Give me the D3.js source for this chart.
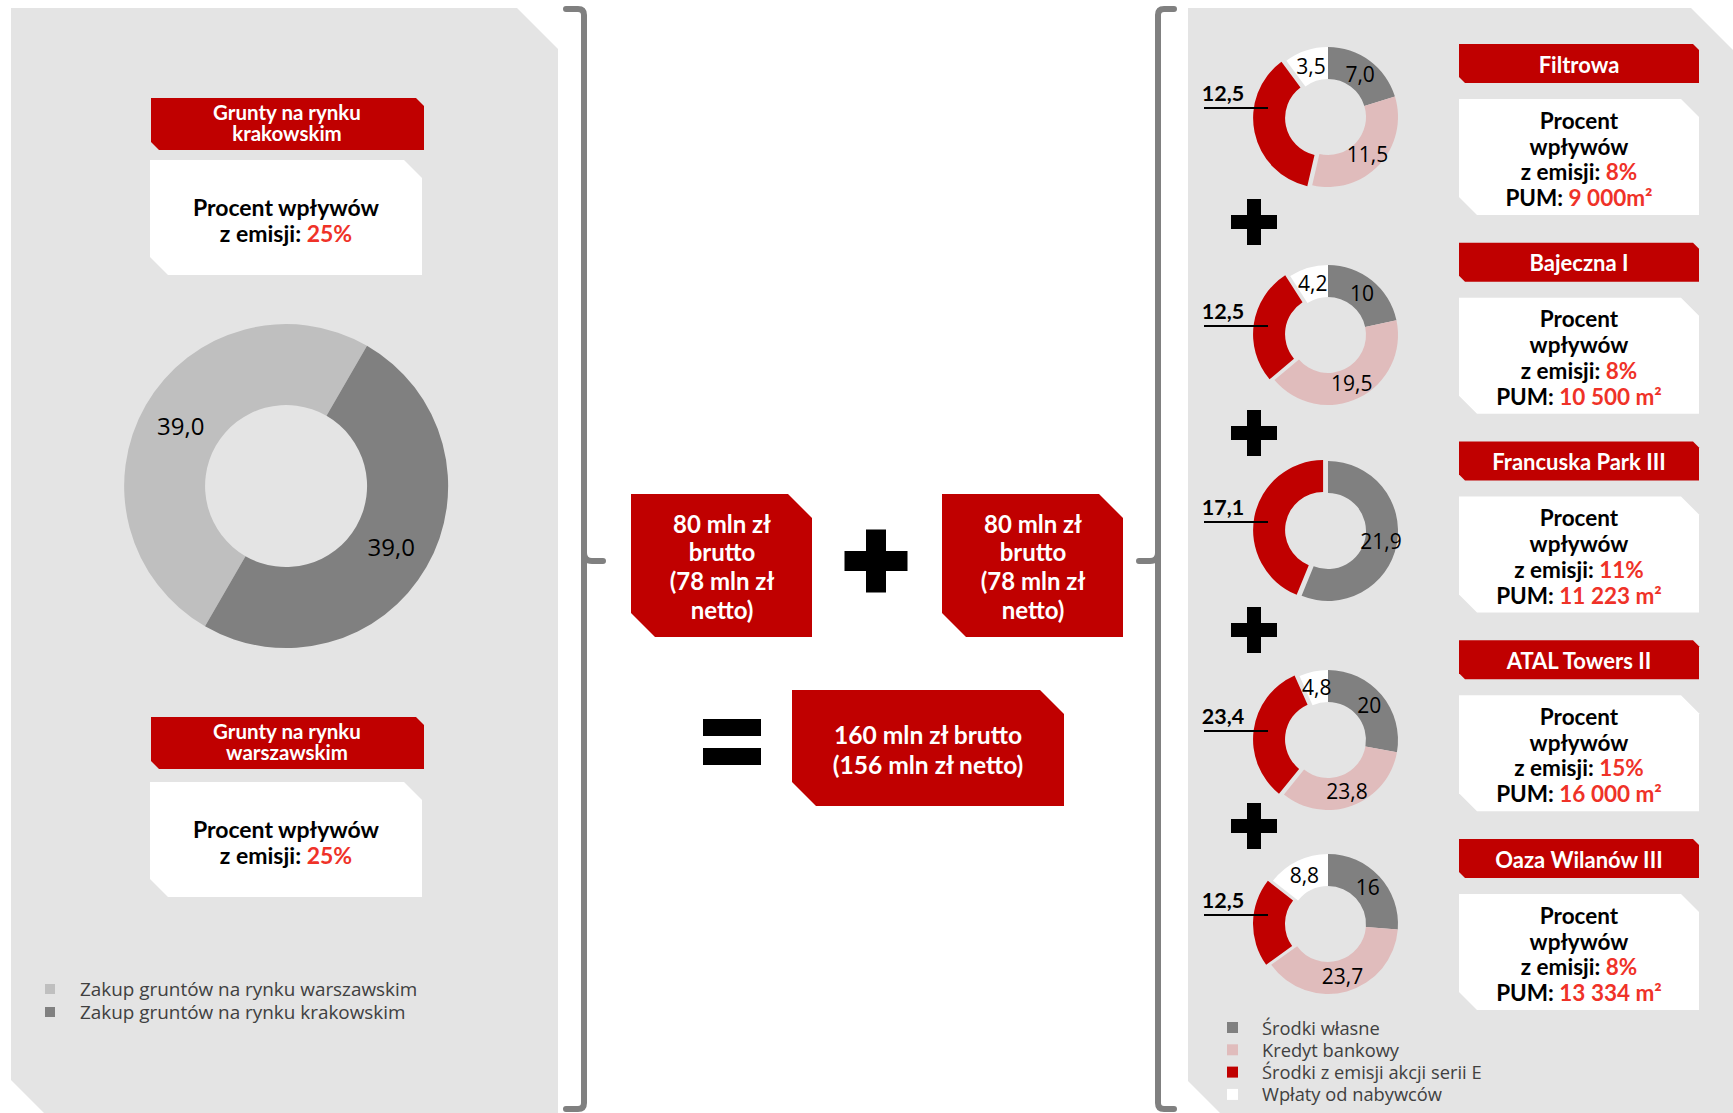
<!DOCTYPE html>
<html>
<head>
<meta charset="utf-8">
<script src="https://cdn.jsdelivr.net/npm/d3@7"></script>
<style>
  body { margin: 0; background: #fff; }
  svg { display: block; }
</style>
</head>
<body>
<svg id="chart"></svg>
<script>
const W = 1733;
const H = 1113;
const RED = '#c00000';
const HIGHLIGHT = '#ef3228';
const PANEL = '#e4e4e4';
const BRACKET = '#808080';
const BOLD = 'Lato, "Open Sans", sans-serif';
const REGULAR = '"Open Sans", "Noto Sans", sans-serif';

// land purchase (left panel)
const landSeries = ['Zakup gruntów na rynku warszawskim', 'Zakup gruntów na rynku krakowskim'];
const landValues = [39.0, 39.0];
const landColors = ['#bfbfbf', '#808080'];
const landHeaders = [['Grunty na rynku', 'krakowskim'], ['Grunty na rynku', 'warszawskim']];
const landShare = ['25%', '25%'];

// issue amounts (middle)
const trancheLines = [
  ['80 mln zł', 'brutto', '(78 mln zł', 'netto)'],
  ['80 mln zł', 'brutto', '(78 mln zł', 'netto)'],
];
const totalLines = ['160 mln zł brutto', '(156 mln zł netto)'];

// projects (right panel)
const projects = ['Filtrowa', 'Bajeczna I', 'Francuska Park III', 'ATAL Towers II', 'Oaza Wilanów III'];
const fundingSeries = ['Środki własne', 'Kredyt bankowy', 'Środki z emisji akcji serii E', 'Wpłaty od nabywców'];
const fundingColors = ['#808080', '#e0bcbc', RED, '#ffffff'];
const ownFunds = [7.0, 10, 21.9, 20, 16];
const bankLoan = [11.5, 19.5, 0, 23.8, 23.7];
const issueFunds = [12.5, 12.5, 17.1, 23.4, 12.5];
const buyerPayments = [3.5, 4.2, 0, 4.8, 8.8];
const issueShare = ['8%', '8%', '11%', '15%', '8%'];
const pumArea = ['9 000m²', '10 500 m²', '11 223 m²', '16 000 m²', '13 334 m²'];

// layout
const DONUT_Y = [117, 335, 531, 740, 924];
const PLUS_Y = [222, 433, 630, 826];

const svg = d3.select('#chart').attr('width', W).attr('height', H);

const comma = v => v.toFixed(1).replace('.', ',');
const smallLabel = v => (Number.isInteger(v) && v >= 10 ? String(v) : comma(v));

// box with top-right and bottom-left corners cut off
function tag(x, y, w, h, c) {
  return `M${x},${y}H${x + w - c}L${x + w},${y + c}V${y + h}H${x + c}L${x},${y + h - c}Z`;
}

function plus(g, cx, cy, size, t) {
  g.append('rect').attr('x', cx - size / 2).attr('y', cy - t / 2).attr('width', size).attr('height', t).attr('fill', '#000');
  g.append('rect').attr('x', cx - t / 2).attr('y', cy - size / 2).attr('width', t).attr('height', size).attr('fill', '#000');
}

function lines(g, x, ys, texts, size, fill) {
  texts.forEach((t, i) => {
    g.append('text')
      .attr('x', x).attr('y', ys[i])
      .attr('text-anchor', 'middle')
      .attr('dominant-baseline', 'central')
      .attr('font-family', BOLD).attr('font-weight', 700)
      .attr('font-size', size).attr('fill', fill)
      .text(t);
  });
}

function twoTone(g, x, y, a, b, size) {
  const t = g.append('text')
    .attr('x', x).attr('y', y)
    .attr('text-anchor', 'middle').attr('dominant-baseline', 'central')
    .attr('font-family', BOLD).attr('font-weight', 700).attr('font-size', size);
  t.append('tspan').attr('fill', '#000').text(a);
  t.append('tspan').attr('fill', HIGHLIGHT).text(b);
}

// panels
svg.append('path').attr('d', 'M11,8H517L558,49V1113H44L11,1080Z').attr('fill', PANEL);
svg.append('path').attr('d', 'M1188,8H1691L1733,50V1113H1220L1188,1081Z').attr('fill', PANEL);

// brackets
const br = svg.append('g').attr('fill', 'none').attr('stroke', BRACKET).attr('stroke-width', 6).attr('stroke-linecap', 'round');
br.append('path').attr('d', 'M566,9H578Q584,9 584,15V1103Q584,1109 578,1109H566');
br.append('path').attr('d', 'M584,553Q584,561 592,561H603');
br.append('path').attr('d', 'M1174,9H1164Q1158,9 1158,15V1103Q1158,1109 1164,1109H1174');
br.append('path').attr('d', 'M1158,553Q1158,561 1150,561H1139');

// ---- left panel ----
const left = svg.append('g');
const landHeaderY = [98, 717];
const landBoxY = [160, 782];
landHeaders.forEach((hd, i) => {
  left.append('path').attr('d', tag(151, landHeaderY[i], 273, 52, 8)).attr('fill', RED);
  lines(left, 287, [landHeaderY[i] + 13.5, landHeaderY[i] + 34.5], hd, 20.5, '#fff');
  left.append('path').attr('d', tag(150, landBoxY[i], 272, 115, 18)).attr('fill', '#fff');
  lines(left, 286, [landBoxY[i] + 47], ['Procent wpływów'], 23, '#000');
  twoTone(left, 286, landBoxY[i] + 73, 'z emisji: ', landShare[i], 23);
});

const landPie = d3.pie().sort(null)
  .startAngle(7 * Math.PI / 6)
  .endAngle(7 * Math.PI / 6 + 2 * Math.PI);
const landArc = d3.arc().innerRadius(81).outerRadius(162);
const landG = left.append('g').attr('transform', 'translate(286,486)');
const landArcs = landPie(landValues);
landG.selectAll('path').data(landArcs).join('path')
  .attr('d', landArc)
  .attr('fill', (d, i) => landColors[i]);
landG.selectAll('text').data(landArcs).join('text')
  .attr('transform', d => `translate(${landArc.centroid(d)})`)
  .attr('text-anchor', 'middle').attr('dominant-baseline', 'central')
  .attr('font-family', REGULAR).attr('font-size', 24).attr('fill', '#000')
  .text(d => comma(d.data));

const landLegend = left.selectAll('g.leg').data(landSeries).join('g')
  .attr('class', 'leg')
  .attr('transform', (d, i) => `translate(45,${989 + i * 23})`);
landLegend.append('rect').attr('x', 0).attr('y', -5).attr('width', 10).attr('height', 10)
  .attr('fill', (d, i) => landColors[i]);
landLegend.append('text').attr('x', 35).attr('dominant-baseline', 'central')
  .attr('font-family', REGULAR).attr('font-size', 18.9).attr('fill', '#404040')
  .text(d => d);

// ---- middle ----
const mid = svg.append('g');
const trancheX = [631, 942];
trancheLines.forEach((tl, i) => {
  mid.append('path').attr('d', tag(trancheX[i], 494, 181, 143, 24)).attr('fill', RED);
  lines(mid, trancheX[i] + 91, [523, 551, 580, 609], tl, 24, '#fff');
});
plus(mid, 876, 561, 63, 20);
mid.append('rect').attr('x', 703).attr('y', 719).attr('width', 58).attr('height', 17).attr('fill', '#000');
mid.append('rect').attr('x', 703).attr('y', 748).attr('width', 58).attr('height', 17).attr('fill', '#000');
mid.append('path').attr('d', tag(792, 690, 272, 116, 24)).attr('fill', RED);
lines(mid, 928, [734, 764], totalLines, 24.6, '#fff');

// ---- right panel ----
const right = svg.append('g');
const headerY = d3.scalePoint().domain(projects).range([44, 839]);
const R = 70;
const r0 = 38;
const pie = d3.pie().sort(null).value(d => d.value);
const arc = d3.arc().innerRadius(r0).outerRadius(R);

projects.forEach((name, i) => {
  const hy = headerY(name);
  right.append('path').attr('d', tag(1459, hy, 240, 39, 6)).attr('fill', RED);
  lines(right, 1579, [hy + 20], [name], 22, '#fff');

  const by = hy + 55;
  right.append('path').attr('d', tag(1459, by, 240, 116, 18)).attr('fill', '#fff');
  lines(right, 1579, [by + 21, by + 47], ['Procent', 'wpływów'], 22.5, '#000');
  twoTone(right, 1579, by + 72, 'z emisji: ', issueShare[i], 22.5);
  twoTone(right, 1579, by + 98, 'PUM: ', pumArea[i], 22.5);

  const values = [ownFunds[i], bankLoan[i], issueFunds[i], buyerPayments[i]]
    .map((v, k) => ({ value: v, k }));
  const arcs = pie(values).filter(d => d.value > 0);
  const cx = 1328;
  const cy = DONUT_Y[i];
  const g = right.append('g').attr('transform', `translate(${cx},${cy})`);
  g.selectAll('path').data(arcs).join('path')
    .attr('d', arc)
    .attr('fill', d => fundingColors[d.data.k])
    .attr('transform', d => {
      if (d.data.k !== 2) return null;
      const a = (d.startAngle + d.endAngle) / 2;
      return `translate(${Math.sin(a) * 5},${-Math.cos(a) * 5})`;
    });
  g.selectAll('text').data(arcs.filter(d => d.data.k !== 2)).join('text')
    .attr('transform', d => `translate(${arc.centroid(d)})`)
    .attr('text-anchor', 'middle').attr('dominant-baseline', 'central')
    .attr('font-family', REGULAR).attr('font-size', 21).attr('fill', '#000')
    .text(d => smallLabel(d.value));

  // issue share label with leader
  g.append('text').attr('x', -105).attr('y', -16)
    .attr('text-anchor', 'middle')
    .attr('font-family', BOLD).attr('font-weight', 700).attr('font-size', 21.5).attr('fill', '#000')
    .text(comma(issueFunds[i]));
  g.append('line').attr('x1', -124).attr('x2', -60).attr('y1', -9).attr('y2', -9)
    .attr('stroke', '#000').attr('stroke-width', 2);
});

PLUS_Y.forEach(y => plus(right, 1254, y, 46, 14));

const fundLegend = right.selectAll('g.fleg').data(fundingSeries).join('g')
  .attr('class', 'fleg')
  .attr('transform', (d, i) => `translate(1227,${1027 + i * 22.3})`);
fundLegend.append('rect').attr('x', 0).attr('y', -5).attr('width', 11).attr('height', 11)
  .attr('fill', (d, i) => fundingColors[i]);
fundLegend.append('text').attr('x', 35).attr('dominant-baseline', 'central')
  .attr('font-family', REGULAR).attr('font-size', 18.3).attr('fill', '#404040')
  .text(d => d);
</script>
</body>
</html>
